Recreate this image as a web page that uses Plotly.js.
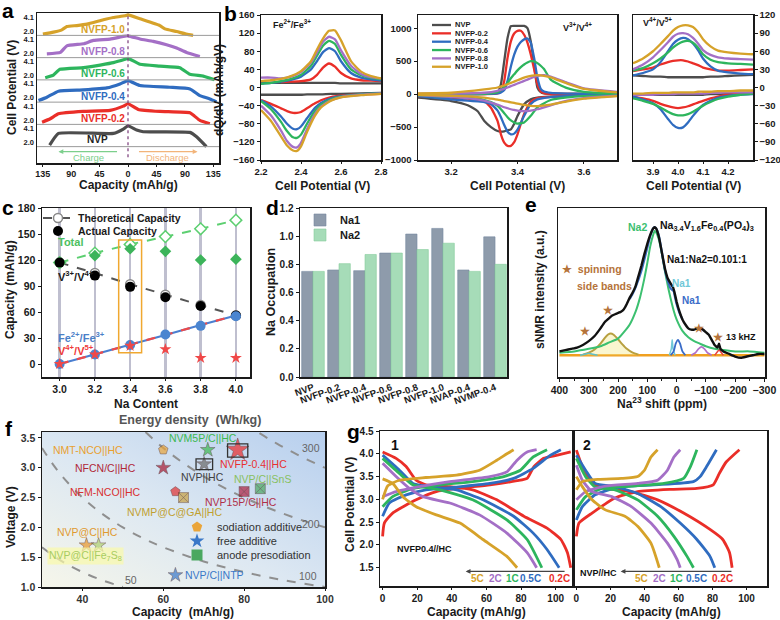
<!DOCTYPE html>
<html><head><meta charset="utf-8">
<script src="https://cdn.plot.ly/plotly-3.0.1.min.js"></script>
<style>body{margin:0;background:#fff}#chart{width:780px;height:620px}</style>
</head><body><div id="chart"></div>
<script>
// ---------------- Panel a : stacked charge/discharge profiles ----------------
const aLabels = ['NVP','NVFP-0.2','NVFP-0.4','NVFP-0.6','NVFP-0.8','NVFP-1.0'];
const aCapNVP = [-124,-110,-23,-7.4,0,13.7,24,98,108.5,124];
const aVNVP   = [1.57,3.32,3.32,3.97,4.46,3.82,3.57,3.47,2.82,1.35];
const aCap02 = [-136,-123,-110,-70.6,-28.4,-7.4,0,16.3,50.5,98,105,113.7,129.5];
const aV02   = [1.67,2.18,2.93,3.28,3.43,4.07,4.43,3.58,3.28,3.08,2.6,1.93,1.43];
const aCap04 = [-141.6,-128.4,-110,-70.6,-33.6,-12.6,0,19,66,98,113.7,129.5,140];
const aV04   = [1.57,2.08,2.98,3.17,3.47,4.07,4.57,3.82,3.57,3.32,2.32,1.82,1.38];
const aCap06 = [-131,-118,-107.8,-70.6,-44,-23,-4.7,0,19,50.5,82,98,119,137];
const aV06   = [1.67,2.06,2.92,3.17,3.56,3.92,4.42,4.57,3.67,3.41,3.17,2.17,1.91,1.35];
const aCap08 = [-128.4,-107,-96.8,-70.6,-54.8,-28.4,-7.4,0,19,40,61,77,92.7,113.7];
const aV08   = [1.91,2.12,3.11,3.41,3.92,4.12,4.52,4.61,4.12,3.77,3.26,2.77,2.12,1.52];
const aCap10 = [-134.7,-118,-104.7,-96.8,-81,-65,-39,-23.2,-4.7,0,19,50.5,58.4,76.9,92.7,103];
const aV10   = [1.52,1.82,2.17,2.66,2.81,3.02,3.67,4.01,4.27,4.42,3.82,2.81,2.31,1.91,1.52,1.35];
const aTickCap = [-135,-90,-45,0,45,90,135];
const aTickText = ['135','90','45','0','45','90','135'];

// ---------------- Panel b : dQ/dV ----------------
const bSeries = ['NVP','NVFP-0.2','NVFP-0.4','NVFP-0.6','NVFP-0.8','NVFP-1.0'];
const b1UpX = [2.2,2.25,2.3,2.35,2.4,2.45,2.48,2.51,2.54,2.57,2.6,2.65,2.7,2.75,2.8];
const b1Up = [
 [10,10,10,10,10,10,10,10,10,10,9,9,9,9,9],
 [null,null,12,13,14,18,28,44,53,46,32,20,16,15,14],
 [8,10,13,17,24,40,58,78,87,80,58,32,22,18,15],
 [8,10,14,19,28,48,70,92,103,96,72,40,27,21,18],
 [22,22,20,24,34,55,78,101,112,106,82,48,30,23,20],
 [14,16,19,25,36,58,84,108,125,126,104,58,35,25,20]];
const b1LoX = [2.2,2.25,2.3,2.33,2.36,2.38,2.4,2.43,2.47,2.5,2.55,2.6,2.7,2.8];
const b1Lo = [
 [-16,-16,-16,-16,-16,-16,-16,-15,-15,-15,-14,-14,-13,-12],
 [-28,-36,-46,-52,-56,-56,-54,-46,-35,-28,-21,-18,-15,-14],
 [-28,-42,-64,-80,-91,-92,-86,-68,-45,-34,-24,-19,-15,-13],
 [-30,-48,-76,-96,-110,-111,-104,-80,-52,-38,-26,-20,-15,-13],
 [-40,-62,-95,-118,-131,-132,-122,-92,-58,-42,-28,-21,-16,-13],
 [-50,-74,-108,-128,-139,-140,-130,-98,-62,-44,-29,-22,-17,-14]];
const b2UpX = [3.1,3.2,3.3,3.34,3.35,3.36,3.37,3.38,3.39,3.40,3.41,3.42,3.43,3.44,3.45,3.46,3.47,3.48,3.5,3.55,3.6,3.7];
const b2Up = [
 [0,0,0,30,150,500,850,1030,1035,1035,1035,1035,1000,800,450,100,30,10,5,3,2,0],
 [0,0,0,10,40,200,550,800,920,960,960,900,780,600,380,150,40,15,5,3,2,0],
 [0,0,2,10,25,60,200,420,600,720,790,830,843,780,550,250,80,40,20,8,4,0],
 [0,0,5,30,60,110,170,240,300,360,410,450,480,500,495,470,430,380,220,90,35,8],
 [5,8,20,50,65,80,100,120,140,160,180,200,220,240,260,275,285,288,265,172,86,35],
 [10,20,70,100,115,130,150,170,190,210,230,250,265,278,285,288,285,278,255,160,80,25]];
const b2LoX = [3.1,3.2,3.25,3.28,3.3,3.32,3.34,3.35,3.36,3.37,3.38,3.39,3.4,3.42,3.44,3.46,3.5,3.55,3.6,3.7];
const b2Lo = [
 [-55,-106,-170,-260,-409,-500,-560,-570,-565,-550,-535,-450,-333,-156,-80,-55,-40,-30,-25,-15],
 [-30,-55,-70,-90,-106,-207,-409,-611,-737,-785,-785,-730,-610,-300,-120,-60,-40,-30,-20,-12],
 [-30,-80,-100,-110,-120,-150,-250,-350,-470,-570,-611,-600,-540,-330,-150,-80,-45,-30,-20,-12],
 [-20,-40,-55,-70,-90,-120,-180,-230,-290,-350,-400,-430,-448,-430,-330,-200,-90,-50,-30,-15],
 [-15,-40,-60,-80,-100,-130,-160,-180,-200,-215,-230,-240,-250,-258,-250,-230,-170,-100,-60,-25],
 [-10,-25,-35,-45,-55,-70,-85,-95,-105,-115,-125,-135,-145,-165,-178,-182,-160,-110,-70,-30]];
const b3X = [3.82,3.86,3.9,3.93,3.96,3.98,4.0,4.02,4.04,4.06,4.08,4.1,4.13,4.16,4.2,4.25,4.3];
const b3Up = [
 [20,19,18,18,17,17,17,17,17,17,17,17,18,18,19,20,21],
 [27,30,33,38,42,44,45,45,43,40,37,33,30,28,28,29,30],
 [20,24,30,42,60,72,79,82,80,73,62,48,35,28,25,23,22],
 [28,32,40,48,58,66,72,76,77,74,66,55,46,42,40,39,38],
 [30,38,50,62,75,84,89,90,88,82,73,62,54,50,48,47,46],
 [40,48,60,72,85,94,100,103,103,100,92,80,68,61,58,56,55]];
const b3Lo = [
 [-12,-12,-12,-12,-12,-12,-12,-12,-12,-12,-12,-12,-11,-11,-10,-10,-10],
 [-15,-18,-22,-27,-31,-33,-34,-33,-31,-28,-25,-22,-18,-15,-12,-10,-8],
 [-15,-20,-26,-36,-52,-62,-67,-66,-58,-47,-37,-29,-22,-17,-14,-12,-11],
 [-18,-22,-27,-33,-40,-44,-46,-46,-44,-40,-35,-30,-24,-19,-15,-12,-10],
 [-12,-12,-12,-11,-11,-11,-10,-10,-10,-10,-10,-10,-9,-9,-8,-8,-8],
 [-10,-10,-9,-9,-9,-8,-8,-8,-8,-8,-7,-7,-7,-6,-6,-5,-5]];

// ---------------- Panel c ----------------
const naContent = [3.0,3.2,3.4,3.6,3.8,4.0];
const totalTheo = [117,128,138,147,156,166];
const totalAct  = [null,125,133,130,120,121];
const v34Theo   = [117,105,92,80,68,56];
const v34Act    = [117,102,89,77,67,56];
const feTheo    = [0,11,22,33.5,45,56];
const feAct     = [0,11,22,34,44,55];
const v45Act    = [0,11,21,17,7,7];

// ---------------- Panel d ----------------
const dSamples = ['NVP','NVFP-0.2','NVFP-0.4','NVFP-0.6','NVFP-0.8','NVFP-1.0','NVAP-0.4','NVMP-0.4'];
const dNa1 = [0.75,0.76,0.755,0.88,1.015,1.055,0.76,0.995];
const dNa2 = [0.75,0.805,0.87,0.88,0.905,0.95,0.75,0.80];

// ---------------- Panel e ----------------
const eExpPpm = [400,380,360,340,320,300,280,260,245,230,220,210,200,190,180,170,160,150,140,130,120,110,100,90,80,75,70,60,50,40,30,20,12,8,0,-10,-20,-30,-40,-50,-60,-70,-80,-90,-100,-110,-120,-130,-140,-145,-150,-160,-180,-200,-220,-240,-260,-280,-300];
const eExpInt = [0.03,0.04,0.05,0.06,0.08,0.11,0.15,0.21,0.26,0.29,0.31,0.32,0.33,0.34,0.36,0.40,0.45,0.49,0.54,0.62,0.70,0.79,0.87,0.94,0.99,1.0,0.99,0.92,0.80,0.68,0.60,0.56,0.53,0.50,0.42,0.34,0.28,0.24,0.21,0.20,0.20,0.21,0.21,0.20,0.18,0.16,0.12,0.08,0.06,0.09,0.05,0.03,0.01,-0.01,-0.02,-0.01,0.0,0.01,0.01];
const eFitPpm = [400,350,300,260,230,200,180,160,140,125,110,100,90,80,75,70,60,50,40,25,10,0,-20,-40,-60,-80,-100,-130,-160,-200,-250,-300];
const eNa2Int = [0.02,0.03,0.05,0.07,0.10,0.13,0.18,0.24,0.34,0.45,0.60,0.72,0.85,0.94,0.97,0.96,0.90,0.79,0.66,0.49,0.35,0.28,0.19,0.14,0.11,0.09,0.07,0.05,0.04,0.03,0.03,0.02];
const eSumPpm = [160,150,140,120,100,90,80,75,70,60,50,40,30,20,10,5,0,-10,-20];
const eSumInt = [0.44,0.48,0.53,0.66,0.84,0.93,0.99,1.0,0.99,0.93,0.80,0.67,0.58,0.52,0.50,0.45,0.40,0.33,0.28];
const eSbPpm = [320,300,280,260,245,235,225,215,200,185,170,150,130];
const eSbInt = [0.005,0.02,0.045,0.09,0.135,0.16,0.17,0.16,0.125,0.085,0.05,0.02,0.005];
const eNa1aPpm = [25,18,15,12,5];      const eNa1aInt = [0,0.05,0.12,0.05,0];
const eNa1bPpm = [20,10,3,-5,-12,-20,-30]; const eNa1bInt = [0,0.03,0.09,0.12,0.09,0.03,0];
const ePurPpm = [-50,-65,-75,-85,-95,-105,-120]; const ePurInt = [0,0.02,0.05,0.065,0.05,0.02,0];
const eRedPpm = [-130,-140,-145,-150,-160]; const eRedInt = [0,0.03,0.04,0.03,0];
const eCyPpm = [330,310,300,290,270]; const eCyInt = [0,0.01,0.015,0.01,0];
const eBasePpm = [400,-300]; const eBaseInt = [0,0];

// ---------------- Panel f ----------------
const fNames = ['NMT-NCO||HC','NVM5P/C||HC','NVFP-0.4||HC','NFCN/C||HC','NVP||HC','NVP/C||SnS','NFM-NCO||HC','NVMP@C@GA||HC','NVP15P/C||HC','NVP@C||HC','NVP@C||Fe<sub>7</sub>S<sub>8</sub>','NVP/C||NTP'];
const fCap  = [60,71,78.4,60,70.1,84,63,65,80,41,44,63];
const fVolt = [3.3,3.3,3.3,3.0,3.06,2.65,2.6,2.5,2.6,1.7,1.7,1.2];
const fKind = ['sodiation additive','free additive','free additive','free additive','free additive','anode presodiation','sodiation additive','anode presodiation','anode presodiation','free additive','free additive','free additive'];
const fColor = ['#eaa53a','#3cb850','#ea2a2a','#a81830','#6a6a6a','#4aa860','#e03030','#c8a040','#b02040','#e8962a','#b0d070','#3a78c8'];
const fLabelColor = ['#e8a030','#3cb850','#e83030','#b02838','#404040','#88c060','#d83030','#c0a030','#b03048','#e09a30','#a8cc60','#3a78c8'];
const fLabelC = [41.5,69.7,82.2,45.7,69.7,84.6,45.7,62.7,79.3,41.2,40.8,72.6];
const fLabelV = [3.3,3.5,3.07,3.0,2.85,2.82,2.6,2.25,2.43,1.93,1.52,1.2];
const fKinds = ['sodiation additive','free additive','anode presodiation'];
const fKindColor = ['#eaa53a','#3a78c8','#4aa860'];
const fIso300C = [83.8,86,88,90,92,94,96,98,100]; const fIso300V = [3.58,3.488,3.409,3.333,3.261,3.191,3.125,3.061,3.0];
const fIso200C = [55.6,60,65,70,75,80,85,90,95,100]; const fIso200V = [3.6,3.333,3.077,2.857,2.667,2.5,2.353,2.222,2.105,2.0];
const fIso100C = [30,32,35,40,45,50,55,60,70,80,90,100]; const fIso100V = [3.333,3.125,2.857,2.5,2.222,2.0,1.818,1.667,1.429,1.25,1.111,1.0];
const fIso50C = [30,33,36,40,44,48,50]; const fIso50V = [1.667,1.515,1.389,1.25,1.136,1.042,1.0];

// ---------------- Panel g ----------------
const gRates = ['0.2C','0.5C','1C','2C','5C'];
const g1ChCap = [[0,1,5.8,19.4,31,42.7,62,77.7,83.5,87.4,93,101,108.7],[0,3.9,13.6,25,42.7,62,75.7,87,97,103],[0,5.8,17.5,33,52,70,79.6,87,95],[0,7.8,21.4,38.8,62,72,77.7,83.5,89],[0,3,9.7,25,42.7,56,66,71.8,75.7]];
const g1ChV = [[2.19,2.48,2.7,2.99,3.17,3.24,3.32,3.41,3.46,3.72,3.9,3.97,4.04],[2.63,2.92,3.1,3.21,3.27,3.35,3.46,3.68,3.97,4.09],[2.84,3.06,3.24,3.32,3.39,3.5,3.64,3.93,4.09],[3.06,3.17,3.28,3.39,3.5,3.61,3.86,4.04,4.09],[3.0,3.3,3.42,3.48,3.53,3.64,3.86,4.0,4.09]];
const g1DisCap = [[0,7.8,13.6,19.4,25,38.8,52,66,81.6,95,103,106.8,108.7],[0,9.7,17.5,25,42.7,58,75.7,87,95,102],[0,9.7,17.5,33,52,71.8,83.5,92],[0,7.8,15.5,23.3,38.8,56,71.8,83.5,89],[0,5.8,11.7,19.4,31,44.7,58,71.8,77.7]];
const g1DisV = [[4.04,3.9,3.72,3.42,3.32,3.28,3.21,2.99,2.63,2.37,2.12,1.83,1.5],[3.97,3.64,3.35,3.29,3.21,2.99,2.63,2.26,1.9,1.5],[3.9,3.57,3.32,3.21,2.99,2.55,2.12,1.5],[3.79,3.5,3.24,3.06,2.92,2.66,2.26,1.83,1.5],[3.45,3.35,3.06,2.84,2.66,2.48,2.12,1.75,1.5]];
const g2ChCap = [[0,1.5,9.2,22.7,36,55.4,70.8,80.4,84,88,95.8],[0,3.5,11,24.6,45.8,68.8,72.7,76.5,82.3],[0,5.4,15,32.3,51.5,63,67,70.8],[0,5.4,17,36,47.7,53.5,57.3,61],[0,3.5,13,26.5,36,40,43.8,47.7]];
const g2ChV = [[2.19,2.48,2.7,3.03,3.17,3.22,3.24,3.32,3.57,3.82,4.09],[2.55,2.84,3.1,3.27,3.32,3.39,3.5,3.72,4.09],[2.77,3.06,3.24,3.29,3.35,3.46,3.72,4.09],[2.99,3.17,3.29,3.35,3.42,3.64,3.93,4.09],[3.21,3.39,3.44,3.46,3.5,3.64,3.93,4.09]];
const g2DisCap = [[0,3.5,9.2,17,32,47.7,63,78.5,86,90,91.5],[0,5.4,11,22.7,36,49.6,61,70.8,78.5,81.3],[0,5.4,11,22.7,36,47.7,57.3,65,68.8],[0,3.5,9.2,20.8,32.3,43.8,53.5,59.2,61],[0,3.5,9.2,17,28.5,36,43.8,48.7]];
const g2DisV = [[4.08,3.72,3.35,3.24,3.17,2.99,2.7,2.34,2.12,1.83,1.5],[3.97,3.64,3.35,3.28,3.13,2.84,2.48,2.12,1.75,1.5],[3.9,3.5,3.27,3.21,2.99,2.63,2.19,1.75,1.5],[3.75,3.42,3.17,3.06,2.84,2.48,2.04,1.68,1.5],[3.5,3.28,2.99,2.77,2.63,2.41,2.04,1.5]];
const gLabel1Cap = [102,85.7,75,65.3,54.6];
const gLabel2Cap = [86,70.4,58.6,48.8,38];

// ---------------- styling ----------------
const FONT = "'Liberation Sans', Arial, sans-serif";
const sampleColors = ['#4d4d4d','#ea2e28','#2f6cc0','#2db55d','#a46fc6','#d6a22a'];
const gColors = ['#ea2e28','#2f6cc0','#2db55d','#a46fc6','#d6a22a'];
const A_BAND = 3.33, A_VMIN = 1.34;
const W = 780, H = 620;

const traces = [];
function line(x, y, xa, ya, color, width, extra) {
  traces.push(Object.assign({type:'scatter', mode:'lines', x:x, y:y, xaxis:xa, yaxis:ya,
    line:{color:color, width:width, shape:'spline', smoothing:0.5}, showlegend:false, hoverinfo:'skip'}, extra||{}));
}

// panel a
const aCaps = [aCapNVP,aCap02,aCap04,aCap06,aCap08,aCap10];
const aVs = [aVNVP,aV02,aV04,aV06,aV08,aV10];
aCaps.forEach((c,k)=> line(c, aVs[k].map(v=>v-A_VMIN+k*A_BAND), 'x','y', sampleColors[k], 3.2, {line:{color:sampleColors[k],width:3.2,shape:'spline',smoothing:0.4}}));

// panel b
function cv(upX, up, loX, lo, xa, ya) {
  for (let i=0;i<6;i++) line(upX.concat([null], loX), up[i].concat([null], lo[i]), xa, ya, sampleColors[i], 2.3);
}
cv(b1UpX,b1Up,b1LoX,b1Lo,'x2','y2');
cv(b2UpX,b2Up,b2LoX,b2Lo,'x3','y3');
cv(b3X,b3Up,b3X,b3Lo,'x4','y4');

// panel c
line(naContent, feTheo, 'x5','y5', '#4a7fd0', 2.2, {line:{color:'#4a7fd0',width:2.2}});
line(naContent, feTheo, 'x5','y5', '#ef4a4a', 2.2, {line:{color:'#ef4a4a',width:2.2,dash:'dash'}});
traces.push({type:'scatter', mode:'lines+markers', x:naContent, y:v34Theo, xaxis:'x5', yaxis:'y5', name:'Theoretical Capacity', legend:'legend2',
  line:{color:'#555', width:2, dash:'dash'}, marker:{symbol:'circle', size:9, color:'#fff', line:{color:'#888', width:1.5}}, hoverinfo:'skip'});
traces.push({type:'scatter', mode:'lines+markers', x:naContent, y:totalTheo, xaxis:'x5', yaxis:'y5', showlegend:false,
  line:{color:'#5ccf70', width:2, dash:'dash'}, marker:{symbol:'diamond', size:9, color:'#fff', line:{color:'#5ccf70', width:1.5}}, hoverinfo:'skip'});
traces.push({type:'scatter', mode:'markers', x:naContent, y:v34Act, xaxis:'x5', yaxis:'y5', name:'Actual Capacity', legend:'legend5',
  marker:{symbol:'circle', size:10, color:'#000'}, hoverinfo:'skip'});
traces.push({type:'scatter', mode:'markers', x:naContent, y:totalAct, xaxis:'x5', yaxis:'y5', showlegend:false,
  marker:{symbol:'diamond', size:9, color:'#3cb45a'}, hoverinfo:'skip'});
traces.push({type:'scatter', mode:'markers', x:naContent, y:feAct, xaxis:'x5', yaxis:'y5', showlegend:false,
  marker:{symbol:'circle', size:10, color:'#4a85d0'}, hoverinfo:'skip'});
traces.push({type:'scatter', mode:'markers', x:naContent, y:v45Act, xaxis:'x5', yaxis:'y5', showlegend:false,
  marker:{symbol:'star', size:9, color:'#f04848'}, hoverinfo:'skip'});

// panel d
traces.push({type:'bar', x:dSamples, y:dNa1, name:'Na1', xaxis:'x6', yaxis:'y6', legend:'legend3',
  marker:{color:'#8e9bab', line:{color:'#7588a0', width:0.6}}, hoverinfo:'skip'});
traces.push({type:'bar', x:dSamples, y:dNa2, name:'Na2', xaxis:'x6', yaxis:'y6', legend:'legend6',
  marker:{color:'#a6dcb8', line:{color:'#86cc9c', width:0.6}}, hoverinfo:'skip'});

// panel e
line(eBasePpm, eBaseInt, 'x7','y7', '#f0a020', 2.5, {line:{color:'#f0a020',width:2.5}});
line(eSbPpm, eSbInt, 'x7','y7', '#b8a040', 2, {fill:'tozeroy', fillcolor:'rgba(245,235,150,0.45)'});
line(eCyPpm, eCyInt, 'x7','y7', '#60c0c8', 1.5);
line(eFitPpm, eNa2Int, 'x7','y7', '#3cc070', 2);
line(eNa1aPpm, eNa1aInt, 'x7','y7', '#70c8d8', 1.5);
line(eNa1bPpm, eNa1bInt, 'x7','y7', '#3a6cc8', 1.8);
line(ePurPpm, ePurInt, 'x7','y7', '#b070c8', 1.6);
line(eRedPpm, eRedInt, 'x7','y7', '#e84040', 1.5);
line(eSumPpm, eSumInt, 'x7','y7', '#3a6cc0', 2.2);
line(eExpPpm, eExpInt, 'x7','y7', '#111', 2.4, {line:{color:'#111',width:2.4,shape:'spline',smoothing:0.3}});

// panel f
[[fIso300C,fIso300V],[fIso200C,fIso200V],[fIso100C,fIso100V],[fIso50C,fIso50V]].forEach(p=>
  line(p[0], p[1], 'x8','y8', '#8f8f8f', 2, {line:{color:'#8f8f8f',width:2,dash:'dash',shape:'spline'}}));
const kindSymbol = {'sodiation additive':'pentagon','free additive':'star','anode presodiation':'square-x'};
const kindSize = {'sodiation additive':10,'free additive':11,'anode presodiation':10};
traces.push({type:'scatter', mode:'markers', x:fCap, y:fVolt, xaxis:'x8', yaxis:'y8', showlegend:false, hoverinfo:'skip',
  marker:{symbol:fKind.map(k=>kindSymbol[k]), color:fColor, size:fKind.map((k,i)=> i===2?17:kindSize[k]),
    line:{color:'rgba(60,20,20,0.6)', width:0.8}}});
fKinds.forEach((k,i)=>
  traces.push({type:'scatter', mode:'markers', x:[null], y:[null], xaxis:'x8', yaxis:'y8', name:k, legend:['legend4','legend7','legend8'][i],
    marker:{symbol:kindSymbol[k], color:fKindColor[i], size:11}, hoverinfo:'skip'}));

// panel g
for (let i=0;i<5;i++) {
  line(g1ChCap[i].concat([null],g1DisCap[i]), g1ChV[i].concat([null],g1DisV[i]), 'x9','y9', gColors[i], 2.8);
  line(g2ChCap[i].concat([null],g2DisCap[i]), g2ChV[i].concat([null],g2DisV[i]), 'x10','y10', gColors[i], 2.8);
}

// ---------------- axes ----------------
function axis(d0, d1, isY, range, o) {
  return Object.assign({domain: isY ? [1-d1/H, 1-d0/H] : [d0/W, d1/W], range:range,
    showline:true, mirror:true, linecolor:'#1a1a1a', linewidth:1.5, ticks:'outside', ticklen:3,
    tickcolor:'#1a1a1a', zeroline:false, showgrid:false, fixedrange:true,
    tickfont:{size:10, family:FONT, color:'#1a1a1a', weight:'bold'}}, o);
}
const aTickVals = [], aTickTxt = [];
for (let k=0;k<6;k++){ aTickVals.push(2.0-A_VMIN+k*A_BAND, 4.1-A_VMIN+k*A_BAND); aTickTxt.push('2.0','4.1'); }
function leg(px, py, size, color, weight) {
  return {x:px/W, y:1-py/H, xanchor:'left', yanchor:'middle', bgcolor:'rgba(0,0,0,0)', tracegroupgap:0, itemwidth:30,
    font:{size:size, family:FONT, color:color||'#1a1a1a', weight:weight||'bold'}};
}
const smallTick = {size:9.5, family:FONT, color:'#1a1a1a', weight:'bold'};

const layout = {
  width:W, height:H, margin:{l:0,r:0,t:0,b:0}, paper_bgcolor:'#fff', plot_bgcolor:'rgba(0,0,0,0)',
  font:{family:FONT, size:10, color:'#1a1a1a', weight:'bold'},
  showlegend:true, barmode:'group', bargap:0.13, bargroupgap:0,
  xaxis: axis(37,219,false,[-144,144],{anchor:'y', tickvals:aTickCap, ticktext:aTickText, ticklen:2, tickfont:{size:9,family:FONT,weight:'bold'}}),
  yaxis: axis(13,163,true,[-2.45,20.0],{anchor:'x', tickvals:aTickVals, ticktext:aTickTxt, ticks:'', tickfont:{size:7.5,family:FONT,weight:'bold'}}),
  xaxis2: axis(261,381,false,[2.2,2.8],{anchor:'y2', dtick:0.2, tickformat:'.1f', ticklen:2, tickfont:smallTick}),
  yaxis2: axis(15,160,true,[-160,160],{anchor:'x2', dtick:40, tickfont:smallTick}),
  xaxis3: axis(418,617,false,[3.1,3.7],{anchor:'y3', tickvals:[3.2,3.4,3.6], tickformat:'.1f', ticklen:2, tickfont:smallTick}),
  yaxis3: axis(15,160,true,[-1000,1200],{anchor:'x3', tickvals:[-1000,-500,0,500,1000], tickfont:smallTick}),
  xaxis4: axis(633,753,false,[3.82,4.30],{anchor:'y4', tickvals:[3.9,4.0,4.1,4.2], tickformat:'.1f', ticklen:2, tickfont:smallTick}),
  yaxis4: axis(15,160,true,[-120,120],{anchor:'x4', side:'right', dtick:30, tickfont:smallTick}),
  xaxis5: axis(42,250,false,[2.9,4.08],{anchor:'y5', tickvals:naContent, tickformat:'.1f', ticklen:2, showgrid:true, gridcolor:'#bfbfcf', gridwidth:2.5, tickfont:{size:10.5,family:FONT,weight:'bold'}}),
  yaxis5: axis(208,377,true,[-15,180],{anchor:'x5', dtick:30, tickfont:{size:10.5,family:FONT,weight:'bold'}}),
  xaxis6: axis(300,507,false,[-0.5,7.46],{anchor:'y6', type:'category', tickangle:-20, ticks:'', tickfont:smallTick}),
  yaxis6: axis(208,377,true,[0,1.2],{anchor:'x6', dtick:0.2, tickformat:'.1f'}),
  xaxis7: axis(558,765,false,[405,-302],{anchor:'y7', dtick:100, tickfont:{size:10.5,family:FONT,weight:'bold'}, minor:{ticks:'outside', ticklen:2, dtick:50}}),
  yaxis7: axis(208,377,true,[-0.17,1.15],{anchor:'x7', showticklabels:false, ticks:''}),
  xaxis8: axis(42,325,false,[30,100],{anchor:'y8', dtick:20, ticklen:2, tickfont:{size:10.5,family:FONT,color:'#333'}}),
  yaxis8: axis(432,587,true,[1.0,3.6],{anchor:'x8', dtick:0.5, tickformat:'.1f', tickfont:{size:10.5,family:FONT,color:'#333'}}),
  xaxis9: axis(380,573,false,[-1.5,110],{anchor:'y9', dtick:20, ticklen:2}),
  yaxis9: axis(431,586,true,[1.1,4.5],{anchor:'x9', dtick:0.5, tickformat:'.1f'}),
  xaxis10: axis(573,767,false,[-2,112],{anchor:'y10', dtick:20, ticklen:2}),
  yaxis10: axis(431,586,true,[1.1,4.5],{anchor:'x10', showticklabels:false, ticks:''}),
  legend2: leg(38, 218, 10.5),
  legend5: leg(38, 231, 10.5),
  legend3: leg(300, 220, 11),
  legend6: leg(300, 235, 11),
  legend4: leg(177, 527, 11, '#333', 'normal'),
  legend7: leg(177, 541, 11, '#333', 'normal'),
  legend8: leg(177, 555, 11, '#333', 'normal'),
  shapes: [], annotations: [],
  images: [{source:'data:image/svg+xml;charset=utf-8,'+encodeURIComponent("<svg xmlns='http://www.w3.org/2000/svg' width='200' height='110' viewBox='0 0 200 110' preserveAspectRatio='none'><defs><linearGradient id='g' x1='0' y1='1' x2='1' y2='0'><stop offset='0' stop-color='#f6f6ea'/><stop offset='0.45' stop-color='#dde8f2'/><stop offset='1' stop-color='#b7cfee'/></linearGradient></defs><rect width='200' height='110' fill='url(#g)'/></svg>"),
    xref:'paper', yref:'paper', x:42/W, y:1-432/H, sizex:283/W, sizey:155/H, xanchor:'left', yanchor:'top', sizing:'stretch', layer:'below'}]
};

const S = layout.shapes, A = layout.annotations;
function ann(text, x, y, xref, yref, o) { A.push(Object.assign({text:text, x:x, y:y, xref:xref, yref:yref, showarrow:false, xanchor:'center', yanchor:'middle', font:{family:FONT, size:10, color:'#1a1a1a', weight:'bold'}}, o||{})); }
function pann(text, px, py, o) { ann(text, px/W, 1-py/H, 'paper','paper', o); }
const TF = {family:FONT, size:12, color:'#1a1a1a', weight:'bold'};
function xt(text, px, py, o) { pann(text, px, py, Object.assign({font:TF}, o||{})); }
function yt(text, px, py, o) { pann(text, px, py, Object.assign({font:TF, textangle:-90}, o||{})); }

// axis titles
xt('Capacity (mAh/g)', 128, 185); yt('Cell Potential (V)', 12, 88);
xt('Cell Potential (V)', 322, 186); xt('Cell Potential (V)', 517, 186); xt('Cell Potential (V)', 693, 186);
yt('dQ/dV (mAh/gV)', 219, 90);
xt('Na Content', 146, 404); yt('Capacity (mAh/g)', 10, 290);
yt('Na Occupation', 271, 292, {font:Object.assign({}, TF, {size:12.5})});
xt('Na<sup>23</sup> shift (ppm)', 662, 403); yt('sNMR intensity (a.u.)', 540, 290);
xt('Capacity  (mAh/g)', 183, 612); yt('Voltage (V)', 11, 517);
xt('Capacity (mAh/g)', 476, 612); xt('Capacity (mAh/g)', 671, 612); yt('Cell Potential (V)', 350, 505);

// panel letters
[['a',8,11],['b',230,13],['c',8,208],['d',272,207],['e',531,204],['f',9,428],['g',353,431]].forEach(l=>
  pann(l[0], l[1], l[2], {font:{family:FONT,size:21,color:'#000',weight:'bold'}}));

// panel a decorations
for (let k=0;k<6;k++) S.push({type:'line', xref:'x domain', yref:'y', x0:0, x1:1, y0:k*A_BAND, y1:k*A_BAND, line:{color:'#9a9a9a', width:1}});
S.push({type:'line', xref:'x', yref:'y', x0:0, x1:0, y0:-1.6, y1:20, line:{color:'#7a3a7a', width:1.2, dash:'dot'}});
for (let k=1;k<6;k++) ann(aLabels[k], -2, 2.25-A_VMIN+k*A_BAND, 'x','y', {xanchor:'right', font:{family:FONT,size:10,color:sampleColors[k],weight:'bold'}});
ann(aLabels[0], -49, 2.35-A_VMIN, 'x','y', {font:{family:FONT,size:10,color:'#222',weight:'bold'}});
A.push({x:-110, y:-0.75, ax:-15, ay:-0.75, xref:'x', yref:'y', axref:'x', ayref:'y', showarrow:true, arrowhead:2, arrowsize:0.8, arrowwidth:1.2, arrowcolor:'#7ccf8c', text:''});
A.push({x:110, y:-0.75, ax:15, ay:-0.75, xref:'x', yref:'y', axref:'x', ayref:'y', showarrow:true, arrowhead:2, arrowsize:0.8, arrowwidth:1.2, arrowcolor:'#f2b47a', text:''});
ann('Charge', -62, -1.6, 'x','y', {font:{family:FONT,size:9.5,color:'#7ccf8c',weight:'normal'}});
ann('Discharge', 62, -1.6, 'x','y', {font:{family:FONT,size:9.5,color:'#f2b47a',weight:'normal'}});

// panel b labels + legend
pann('Fe<sup>2+</sup>/Fe<sup>3+</sup>', 292, 24, {font:{family:FONT,size:9,color:'#1a1a1a',weight:'bold'}});
pann('V<sup>3+</sup>/V<sup>4+</sup>', 577, 27, {font:{family:FONT,size:9,color:'#1a1a1a',weight:'bold'}});
pann('V<sup>4+</sup>/V<sup>5+</sup>', 657, 22, {font:{family:FONT,size:9,color:'#1a1a1a',weight:'bold'}});
bSeries.forEach((s,i)=>{
  const py = 25 + i*8.35;
  S.push({type:'line', xref:'paper', yref:'paper', x0:432/W, x1:451/W, y0:1-py/H, y1:1-py/H, line:{color:sampleColors[i], width:2.3}});
  pann(s, 453, py, {xanchor:'left', font:{family:FONT,size:7.5,color:'#1a1a1a',weight:'bold'}});
});

// panel c
S.push({type:'rect', xref:'x5', yref:'y5', x0:3.335, x1:3.465, y0:13, y1:143, line:{color:'#f0a830', width:1.5}});
ann('Total', 2.98, 141, 'x5','y5', {xanchor:'left', font:{family:FONT,size:11,color:'#4cc060',weight:'bold'}});
ann('V<sup>3+</sup>/V<sup>4+</sup>', 2.98, 101, 'x5','y5', {xanchor:'left', font:{family:FONT,size:11,color:'#1a1a1a',weight:'bold'}});
ann('Fe<sup>2+</sup>/Fe<sup>3+</sup>', 2.98, 31, 'x5','y5', {xanchor:'left', font:{family:FONT,size:11,color:'#4a80c8',weight:'bold'}});
ann('V<sup>4+</sup>/V<sup>5+</sup>', 2.98, 16, 'x5','y5', {xanchor:'left', font:{family:FONT,size:11,color:'#ef3a3a',weight:'bold'}});

// panel e
const brown = '#b5733a';
ann('Na2', 132, 1.0, 'x7','y7', {font:{family:FONT,size:10.5,color:'#3cc070',weight:'bold'}});
ann('Na<sub>3.4</sub>V<sub>1.6</sub>Fe<sub>0.4</sub>(PO<sub>4</sub>)<sub>3</sub>', 62, 1.01, 'x7','y7', {xanchor:'left', font:{family:FONT,size:10.5,color:'#111',weight:'bold'}});
ann('Na1:Na2=0.101:1', 40, 0.75, 'x7','y7', {xanchor:'left', font:{family:FONT,size:10,color:'#111',weight:'bold'}});
ann('★  spinning', 397, 0.67, 'x7','y7', {xanchor:'left', font:{family:FONT,size:10.5,color:brown,weight:'bold'}});
ann('side bands', 348, 0.54, 'x7','y7', {xanchor:'left', font:{family:FONT,size:10.5,color:brown,weight:'bold'}});
ann('Na1', 24, 0.56, 'x7','y7', {xanchor:'left', font:{family:FONT,size:10,color:'#70c8d8',weight:'bold'}});
ann('Na1', -10, 0.43, 'x7','y7', {xanchor:'left', font:{family:FONT,size:10,color:'#3a6cc8',weight:'bold'}});
[[313,0.19],[233,0.35],[-78,0.21],[-141,0.14]].forEach(s=> ann('★', s[0], s[1], 'x7','y7', {font:{family:FONT,size:11,color:brown}}));
ann('13 kHZ', -163, 0.14, 'x7','y7', {xanchor:'left', font:{family:FONT,size:9,color:'#111',weight:'bold'}});

// panel f
pann('Energy density  (Wh/kg)', 190, 420, {font:{family:FONT,size:12.5,color:'#555',weight:'bold'}});
fNames.forEach((n,i)=> ann(n, fLabelC[i], fLabelV[i], 'x8','y8', {font:{family:FONT,size:10.5,color:fLabelColor[i],weight:'normal'},
  bgcolor: i===10 ? 'rgba(250,250,170,0.7)' : 'rgba(0,0,0,0)'}));
[['300',96.6,3.34],['200',96.6,2.05],['100',95.8,1.18],['50',51.9,1.12]].forEach(t=>
  ann(t[0], t[1], t[2], 'x8','y8', {font:{family:FONT,size:10.5,color:'#666',weight:'normal'}}));
S.push({type:'rect', xref:'x8', yref:'y8', x0:75.9, x1:80.9, y0:3.18, y1:3.40, line:{color:'#333', width:1.3}});
S.push({type:'rect', xref:'x8', yref:'y8', x0:68.1, x1:72.2, y0:2.97, y1:3.15, line:{color:'#333', width:1.3}});

// panel g
ann('1', 7, 4.2, 'x9','y9', {font:{family:FONT,size:14,color:'#111',weight:'bold'}});
ann('2', 6.5, 4.2, 'x10','y10', {font:{family:FONT,size:14,color:'#111',weight:'bold'}});
ann('NVFP0.4//HC', 24, 1.92, 'x9','y9', {font:{family:FONT,size:9,color:'#111',weight:'bold'}});
ann('NVP//HC', 13, 1.39, 'x10','y10', {font:{family:FONT,size:9,color:'#111',weight:'bold'}});
A.push({x:48, y:1.42, ax:106, ay:1.42, xref:'x9', yref:'y9', axref:'x9', ayref:'y9', showarrow:true, arrowhead:2, arrowsize:0.8, arrowwidth:1.2, arrowcolor:'#444', text:''});
A.push({x:26, y:1.42, ax:92, ay:1.42, xref:'x10', yref:'y10', axref:'x10', ayref:'y10', showarrow:true, arrowhead:2, arrowsize:0.8, arrowwidth:1.2, arrowcolor:'#444', text:''});
gRates.forEach((r,i)=>{
  ann(r, gLabel1Cap[i], 1.27, 'x9','y9', {font:{family:FONT,size:10,color:gColors[i],weight:'bold'}});
  ann(r, gLabel2Cap[i], 1.27, 'x10','y10', {font:{family:FONT,size:10,color:gColors[i],weight:'bold'}});
});

Plotly.newPlot('chart', traces, layout, {staticPlot:true, displayModeBar:false});
</script></body></html>
